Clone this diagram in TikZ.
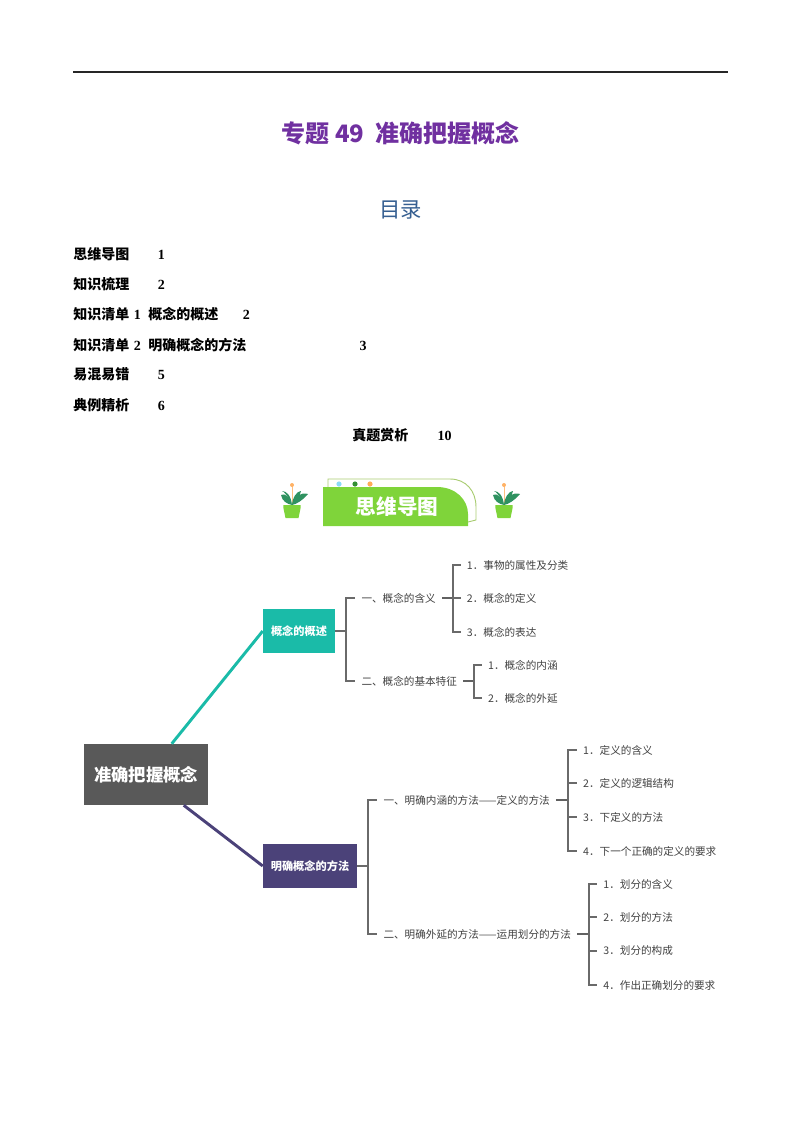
\documentclass[tikz,border=0pt]{standalone}
\usepackage{fontspec}
\setmainfont{Noto Sans CJK SC}
\newfontfamily\numfont{Liberation Serif}
\usepackage{tikz}
\usetikzlibrary{positioning}

\definecolor{titlepurple}{HTML}{7030A0}
\definecolor{tocblue}{HTML}{365F91}
\definecolor{rootgray}{HTML}{595959}
\definecolor{tealbox}{HTML}{1ABBA8}
\definecolor{violetbox}{HTML}{4B4279}
\definecolor{treegray}{HTML}{6A6A6A}
\definecolor{bannergreen}{HTML}{7FD43A}
\definecolor{bannerline}{HTML}{A9CC72}
\definecolor{leafgreen}{HTML}{2F9260}

\tikzset{
    toc/.style={inner sep=0pt, font=\fontsize{10.5pt}{12pt}\selectfont\bfseries},
    box/.style={minimum height=33pt, inner sep=0pt, text=white, font=\fontsize{8.4pt}{10pt}\selectfont\bfseries},
    branch/.style={inner ysep=0pt, inner xsep=4.5pt, text=black!75, font=\fontsize{7.95pt}{9pt}\selectfont},
    link/.style={draw=treegray, line width=1.4pt},
    stub/.style={draw=black!62, line width=1.8pt},
}

\begin{document}
\begin{tikzpicture}[x=0.75pt, y=-0.75pt, on grid]
    \useasboundingbox (0,0) rectangle (800,1132);

    % header
    \coordinate (ra) at (73,72);
    \coordinate (rb) at (728,72);
    \draw [line width=1.5pt, black!85] (ra) -- (rb);
    \node (title) at (400.5,133) [inner sep=0pt, text=titlepurple, font=\fontsize{18pt}{20pt}\selectfont\bfseries] {专题 49\ \ 准确把握概念};
    \node (mulu) [below=57.75pt of title, inner sep=0pt, text=tocblue, font=\fontsize{16pt}{18pt}\selectfont] {目录};

    % contents
    \node (t1) at (73,254) [toc, anchor=west] {思维导图\hspace{21.5pt}{\numfont 1}};
    \node (t2) [toc, below=22.5pt of t1.west, anchor=west] {知识梳理\hspace{21.5pt}{\numfont 2}};
    \node (t3) [toc, below=22.5pt of t2.west, anchor=west] {知识清单\hspace{3.5pt}{\numfont 1}\hspace{5.5pt}概念的概述\hspace{18.5pt}{\numfont 2}};
    \node (t4) [toc, below=23pt of t3.west, anchor=west] {知识清单\hspace{3.5pt}{\numfont 2}\hspace{5.5pt}明确概念的方法\hspace{85pt}{\numfont 3}};
    \node (t5) [toc, below=22.5pt of t4.west, anchor=west] {易混易错\hspace{21.5pt}{\numfont 5}};
    \node (t6) [toc, below=22.5pt of t5.west, anchor=west] {典例精析\hspace{21.5pt}{\numfont 6}};
    \node (t7) [toc, below right=22.5pt and 209.25pt of t6.west, anchor=west] {真题赏析\hspace{22pt}{\numfont 10}};

    % banner
    \draw [bannerline, line width=0.7pt] (328,487) -- (328,479) -- (450,479) .. controls (466,479) and (476,491) .. (476,507) -- (476,520) -- (468,522);
    \fill [bannergreen] (323,487) -- (437,487) .. controls (456,487) and (468,500) .. (468,514) -- (468,526) -- (323,526) -- cycle;
    \fill [cyan!45!white] (339,484) circle (2.6);
    \fill [green!45!black!80] (355,484) circle (2.6);
    \fill [orange!65!white] (370,484) circle (2.6);
    \node (ban) at (397,507) [inner sep=0pt, text=white, font=\fontsize{15.5pt}{17pt}\selectfont\bfseries] {思维导图};
    \foreach \p in {292,504} {
        \begin{scope}[shift={(\p,505)}]
            \draw [orange!50!white, line width=0.5pt] (0,0) -- (0,-19);
            \fill [orange!60!white] (0,-20) circle (2);
            \fill [leafgreen] (0,0) .. controls (-3,-9) and (-7,-12) .. (-11,-10) .. controls (-10,-4) and (-5,-1) .. (0,0);
            \fill [leafgreen] (0,0) .. controls (2,-9) and (9,-13) .. (16,-11) .. controls (11,-5) and (5,-1) .. (0,0);
            \fill [leafgreen] (0,0) .. controls (-3,-7) and (-8,-14) .. (-10,-14) .. controls (-5,-14) and (-1,-9) .. (0,0);
            \fill [leafgreen] (0,0) .. controls (0,-7) and (5,-14) .. (9,-14) .. controls (8,-8) and (3,-3) .. (0,0);
            \fill [bannergreen] (-8.7,0) -- (8.7,0) -- (8.7,2.5) -- (6.5,13) -- (-6.5,13) -- (-8.7,2.5) -- cycle;
        \end{scope}
    }

    % mind map
    \node (r) at (146,774.5) [fill=rootgray, minimum width=93pt, minimum height=45.75pt, inner sep=0pt, text=white, font=\fontsize{13pt}{15pt}\selectfont\bfseries] {准确把握概念};
    \node (k) [box, fill=tealbox, minimum width=54pt, above right=107.6pt and 114.75pt of r] {概念的概述};
    \node (m) [box, fill=violetbox, minimum width=70.5pt, below right=68.6pt and 123pt of r] {明确概念的方法};
    \coordinate [right=66pt of r.north west] (r1);
    \coordinate [right=75pt of r.south west] (r2);
    \draw [tealbox, line width=2.2pt] (r1) -- (k.west);
    \draw [violetbox, line width=2.2pt] (r2) -- (m.west);

    \node (a) [branch, above right=24.75pt and 15pt of k.east, anchor=west] {一、概念的含义};
    \node (b) [branch, below right=37.5pt and 15pt of k.east, anchor=west] {二、概念的基本特征};
    \node (a1) [branch, above right=24.75pt and 14pt of a.east, anchor=west] {1．事物的属性及分类};
    \node (a2) [branch, right=14pt of a.east, anchor=west] {2．概念的定义};
    \node (a3) [branch, below right=25.5pt and 14pt of a.east, anchor=west] {3．概念的表达};
    \node (b1) [branch, above right=12pt and 14pt of b.east, anchor=west] {1．概念的内涵};
    \node (b2) [branch, below right=12.75pt and 14pt of b.east, anchor=west] {2．概念的外延};

    \node (c) [branch, above right=49.5pt and 15pt of m.east, anchor=west] {一、明确内涵的方法——定义的方法};
    \node (d) [branch, below right=51pt and 15pt of m.east, anchor=west] {二、明确外延的方法——运用划分的方法};
    \node (c1) [branch, above right=37.5pt and 15.75pt of c.east, anchor=west] {1．定义的含义};
    \node (c2) [branch, above right=12.75pt and 15.75pt of c.east, anchor=west] {2．定义的逻辑结构};
    \node (c3) [branch, below right=12.75pt and 15.75pt of c.east, anchor=west] {3．下定义的方法};
    \node (c4) [branch, below right=38.25pt and 15.75pt of c.east, anchor=west] {4．下一个正确的定义的要求};
    \node (d1) [branch, above right=37.5pt and 15pt of d.east, anchor=west] {1．划分的含义};
    \node (d2) [branch, above right=12.75pt and 15pt of d.east, anchor=west] {2．划分的方法};
    \node (d3) [branch, below right=12.75pt and 15pt of d.east, anchor=west] {3．划分的构成};
    \node (d4) [branch, below right=38.25pt and 15pt of d.east, anchor=west] {4．作出正确划分的要求};

    \coordinate [right=8.25pt of k.east] (k0);
    \coordinate [right=8pt of a.east] (a0);
    \coordinate [right=8pt of b.east] (b0);
    \coordinate [right=8.25pt of m.east] (m0);
    \coordinate [right=9pt of c.east] (c0);
    \coordinate [right=9pt of d.east] (d0);

    \draw [link] (k.east) -- (k0);
    \draw [link] (k0) |- (a.west);
    \draw [link] (k0) |- (b.west);
    \draw [stub] (a.east) -- (a0);
    \draw [link] (a0) |- (a1.west);
    \draw [link] (a0) -- (a2.west);
    \draw [link] (a0) |- (a3.west);
    \draw [stub] (b.east) -- (b0);
    \draw [link] (b0) |- (b1.west);
    \draw [link] (b0) |- (b2.west);
    \draw [link] (m.east) -- (m0);
    \draw [link] (m0) |- (c.west);
    \draw [link] (m0) |- (d.west);
    \draw [stub] (c.east) -- (c0);
    \draw [link] (c0) |- (c1.west);
    \draw [link] (c0) |- (c2.west);
    \draw [link] (c0) |- (c3.west);
    \draw [link] (c0) |- (c4.west);
    \draw [stub] (d.east) -- (d0);
    \draw [link] (d0) |- (d1.west);
    \draw [link] (d0) |- (d2.west);
    \draw [link] (d0) |- (d3.west);
    \draw [link] (d0) |- (d4.west);
\end{tikzpicture}
\end{document}
